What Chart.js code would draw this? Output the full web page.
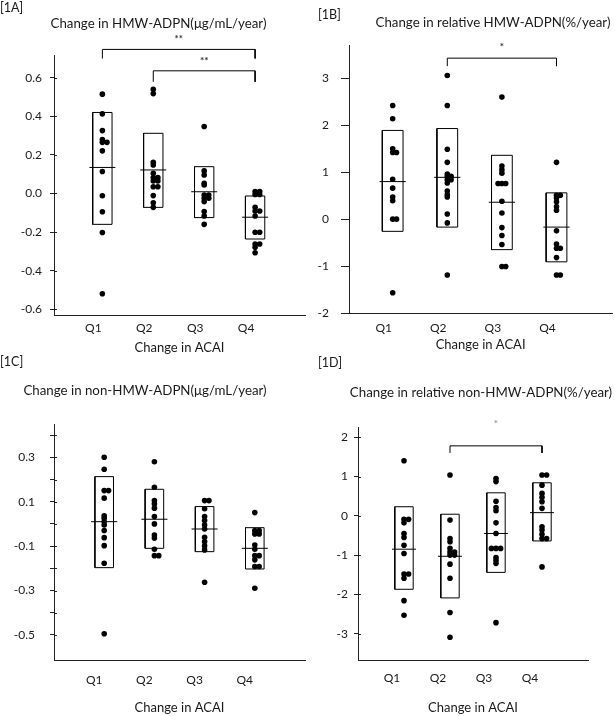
<!DOCTYPE html>
<html><head><meta charset="utf-8">
<script src="https://cdn.jsdelivr.net/npm/chart.js@4"></script>
<style>
html,body{margin:0;padding:0;background:#fff;}
#wrap{position:relative;width:615px;height:716px;overflow:hidden;font-family:Lato,"Open Sans",sans-serif;color:#1a1a1a;}
canvas{position:absolute;}
.t{position:absolute;white-space:nowrap;font-size:13.3px;line-height:18px;text-align:center;z-index:2;}
.p{position:absolute;white-space:nowrap;font-size:12.5px;line-height:16px;z-index:2;}
</style></head><body>
<div id="wrap">
  <canvas id="cA" width="310" height="360" style="left:0;top:0"></canvas>
  <canvas id="cB" width="310" height="360" style="left:305px;top:0"></canvas>
  <canvas id="cC" width="310" height="356" style="left:0;top:360px"></canvas>
  <canvas id="cD" width="310" height="356" style="left:305px;top:360px"></canvas>
  <div class="p" style="left:0;top:0">[1A]</div>
  <div class="t" style="left:0;width:317px;top:14px">Change in HMW-ADPN(μg/mL/year)</div>
  <div class="p" style="left:318px;top:7px">[1B]</div>
  <div class="t" style="left:343px;width:300px;top:13px">Change in relative HMW-ADPN(%/year)</div>
  <div class="p" style="left:0;top:354px">[1C]</div>
  <div class="t" style="left:0;width:290px;top:381px">Change in non-HMW-ADPN(μg/mL/year)</div>
  <div class="p" style="left:318px;top:355px">[1D]</div>
  <div class="t" style="left:331px;width:300px;top:383px">Change in relative non-HMW-ADPN(%/year)</div>
</div>
<script>
// ---------- shared ----------
const QUARTILES = ['Q1', 'Q2', 'Q3', 'Q4'];
const X_TITLE = 'Change in ACAI';

// ---------- [1A] Change in HMW-ADPN (μg/mL/year) ----------
const A_Q1 = [0.515, 0.413, 0.326, 0.28, 0.265, 0.265, 0.221, 0.114, -0.012, -0.095, -0.202, -0.52];
const A_Q2 = [0.54, 0.518, 0.162, 0.148, 0.105, 0.082, 0.082, 0.065, 0.065, 0.035, 0.035, -0.011, -0.048, -0.072];
const A_Q3 = [0.347, 0.117, 0.096, 0.053, 0.044, -0.008, -0.008, -0.025, -0.025, -0.042, -0.094, -0.117, -0.16];
const A_Q4 = [0.01, 0.01, -0.005, -0.005, -0.072, -0.091, -0.091, -0.117, -0.201, -0.201, -0.262, -0.262, -0.279, -0.307];
const A_MEAN = [0.135, 0.122, 0.009, -0.123];
const A_BOX_HI = [0.42, 0.312, 0.139, -0.013];
const A_BOX_LO = [-0.16, -0.072, -0.125, -0.236];
const A_TICKS = [0.6, 0.4, 0.2, 0, -0.2, -0.4, -0.6];
const A_TICK_LABELS = ['0.6', '0.4', '0.2', '0.0', '-0.2', '-0.4', '-0.6'];
const A_BRACKETS = [
  {from: 1, to: 4, top: 0.747, leg: 0.70, mark: '**', markY: 0.80},
  {from: 2, to: 4, top: 0.636, leg: 0.579, mark: '**', markY: 0.687}
];

// ---------- [1B] Change in relative HMW-ADPN (%/year) ----------
const B_Q1 = [2.42, 2.14, 1.5, 1.42, 1.42, 0.85, 0.66, 0.47, 0.39, 0.0, 0.0, -1.57];
const B_Q2 = [3.06, 2.42, 1.49, 1.21, 0.96, 0.91, 0.91, 0.84, 0.84, 0.77, 0.6, 0.52, 0.47, 0.11, -0.08, -1.19];
const B_Q3 = [2.6, 1.13, 1.05, 0.98, 0.76, 0.76, 0.76, 0.38, 0.13, -0.18, -0.35, -0.54, -1.01, -1.01];
const B_Q4 = [1.21, 0.51, 0.51, 0.45, 0.37, 0.27, 0.19, -0.25, -0.53, -0.62, -0.62, -0.82, -1.19, -1.19];
const B_MEAN = [0.8, 0.89, 0.36, -0.17];
const B_BOX_HI = [1.89, 1.93, 1.36, 0.56];
const B_BOX_LO = [-0.26, -0.17, -0.65, -0.91];
const B_TICKS = [3, 2, 1, 0, -1, -2];
const B_TICK_LABELS = ['3', '2', '1', '0', '-1', '-2'];
const B_BRACKETS = [
  {from: 2, to: 4, top: 3.43, leg: 3.26, mark: '*', markY: 3.67}
];

// ---------- [1C] Change in non-HMW-ADPN (μg/mL/year) ----------
const C_Q1 = [0.30, 0.246, 0.15, 0.15, 0.116, 0.036, 0.026, 0.01, -0.005, -0.03, -0.062, -0.098, -0.177, -0.495];
const C_Q2 = [0.28, 0.165, 0.105, 0.09, 0.071, 0.033, 0.0, -0.05, -0.064, -0.114, -0.143, -0.143];
const C_Q3 = [0.105, 0.105, 0.068, 0.033, 0.015, -0.005, -0.023, -0.06, -0.08, -0.099, -0.117, -0.263];
const C_Q4 = [0.051, -0.03, -0.03, -0.045, -0.045, -0.095, -0.114, -0.143, -0.143, -0.162, -0.192, -0.192, -0.29];
const C_MEAN = [0.01, 0.021, -0.023, -0.11];
const C_BOX_HI = [0.213, 0.156, 0.078, -0.017];
const C_BOX_LO = [-0.197, -0.11, -0.125, -0.203];
const C_TICKS = [0.4, 0.3, 0.2, 0.1, 0, -0.1, -0.2, -0.3, -0.4, -0.5];
const C_TICK_LABELS = ['', '0.3', '', '0.1', '', '-0.1', '', '-0.3', '', '-0.5'];
const C_BRACKETS = [];

// ---------- [1D] Change in relative non-HMW-ADPN (%/year) ----------
const D_Q1 = [1.4, -0.09, -0.09, -0.18, -0.45, -0.55, -0.75, -0.96, -1.48, -1.48, -1.59, -2.16, -2.53];
const D_Q2 = [1.04, -0.11, -0.58, -0.66, -0.83, -0.92, -0.92, -1.0, -1.0, -1.23, -1.59, -2.46, -3.09];
const D_Q3 = [0.95, 0.87, 0.37, 0.21, 0.13, -0.18, -0.45, -0.83, -0.83, -0.83, -1.06, -1.13, -1.21, -2.72];
const D_Q4 = [1.04, 1.04, 0.78, 0.57, 0.47, 0.36, 0.19, -0.28, -0.36, -0.47, -0.58, -0.58, -1.30];
const D_MEAN = [-0.85, -1.03, -0.45, 0.08];
const D_BOX_HI = [0.23, 0.04, 0.585, 0.84];
const D_BOX_LO = [-1.87, -2.09, -1.44, -0.64];
const D_TICKS = [2, 1, 0, -1, -2, -3];
const D_TICK_LABELS = ['2', '1', '0', '-1', '-2', '-3'];
const D_BRACKETS = [
  {from: 2, to: 4, top: 1.78, leg: 1.6, mark: '*', markY: 2.35}
];

// ---------- drawing ----------
const FONT = 'Lato, "Open Sans", sans-serif';
const INK = '#1a1a1a';

const deco = {
  id: 'deco',
  afterDraw(chart, args, opts) {
    const {ctx, chartArea, scales: {x, y}} = chart;
    ctx.save();
    ctx.strokeStyle = '#222';
    ctx.lineWidth = 1;
    if (opts.cross) {
      y.ticks.forEach(t => {
        const py = Math.round(y.getPixelForValue(t.value)) + 0.5;
        ctx.beginPath();
        ctx.moveTo(chartArea.left, py);
        ctx.lineTo(chartArea.left + opts.cross, py);
        ctx.stroke();
      });
    }
    ctx.fillStyle = opts.markColor;
    ctx.font = 'bold ' + opts.markSize + 'px ' + FONT;
    ctx.textAlign = 'center';
    ctx.textBaseline = 'middle';
    (opts.brackets || []).forEach(b => {
      ctx.fillText(b.mark, x.getPixelForValue((b.from + b.to) / 2), y.getPixelForValue(b.markY));
    });
    ctx.restore();
  }
};

function dotPoints(series, step) {
  const offs = [0, 1, -1, 2, -2];
  const pts = [];
  series.forEach((vals, qi) => {
    const seen = [];
    vals.forEach(v => {
      const n = seen.filter(s => Math.abs(s - v) < 1e-9).length;
      seen.push(v);
      pts.push({x: qi + 1 + offs[Math.min(n, 4)] * step, y: v});
    });
  });
  return pts;
}

const LINE = {type: 'scatter', showLine: true, borderColor: '#000', backgroundColor: 'transparent',
  borderWidth: 1, pointRadius: 0, pointHoverRadius: 0, fill: false, tension: 0};

function makePanel(id, d, s) {
  const datasets = [];
  d.mean.forEach((m, i) => {
    const q = i + 1, h = s.boxHalf, w = s.meanHalf;
    datasets.push(Object.assign({}, LINE, {data: [
      {x: q - h, y: d.lo[i]}, {x: q + h, y: d.lo[i]}, {x: q + h, y: d.hi[i]},
      {x: q - h, y: d.hi[i]}, {x: q - h, y: d.lo[i]}]}));
    datasets.push(Object.assign({}, LINE, {data: [{x: q - w, y: m}, {x: q + w, y: m}]}));
  });
  d.brackets.forEach(b => {
    datasets.push(Object.assign({}, LINE, {clip: false, data: [
      {x: b.from, y: b.leg}, {x: b.from, y: b.top}, {x: b.to, y: b.top}, {x: b.to, y: b.leg}]}));
  });
  datasets.push({type: 'scatter', data: dotPoints(d.series, s.jitter), pointRadius: 2.8,
    pointHoverRadius: 2.8, backgroundColor: '#000', borderWidth: 0, showLine: false});

  new Chart(document.getElementById(id), {
    type: 'scatter',
    data: {datasets},
    options: {
      responsive: false, animation: false, devicePixelRatio: 1,
      layout: {padding: s.padding},
      events: [],
      plugins: {
        legend: {display: false}, tooltip: {enabled: false},
        deco: {cross: s.cross, brackets: d.brackets, markSize: 10, markColor: s.markColor}
      },
      scales: {
        x: {
          type: 'linear', min: s.xMin, max: s.xMax,
          afterBuildTicks: sc => { sc.ticks = QUARTILES.map((_, i) => ({value: i + 1})); },
          afterFit: sc => { sc.height = s.xHeight; },
          grid: {display: false, drawTicks: false},
          border: {display: true, color: '#222', width: 1},
          ticks: {autoSkip: false, maxRotation: 0, minRotation: 0, padding: s.xLabelPad,
            labelOffset: s.labelOffset, color: INK, font: {family: FONT, size: 12},
            callback: (v, i) => QUARTILES[i]},
          title: {display: true, text: X_TITLE, color: INK, font: {family: FONT, size: 13},
            padding: {top: 0, bottom: s.titlePad}}
        },
        y: {
          type: 'linear', min: s.yMin, max: s.yMax,
          afterBuildTicks: sc => { sc.ticks = d.ticks.map(v => ({value: v})); },
          afterFit: sc => { sc.width = s.yWidth; },
          grid: {drawOnChartArea: false, drawTicks: true, tickLength: s.tickLen, color: '#222'},
          border: {display: true, color: '#222', width: 1},
          ticks: {autoSkip: false, padding: s.tickPad, color: INK, font: {family: FONT, size: 12},
            callback: (v, i) => d.tickLabels[i]}
        }
      }
    },
    plugins: [deco]
  });
}

makePanel('cA',
  {series: [A_Q1, A_Q2, A_Q3, A_Q4], mean: A_MEAN, hi: A_BOX_HI, lo: A_BOX_LO,
   ticks: A_TICKS, tickLabels: A_TICK_LABELS, brackets: A_BRACKETS},
  {padding: {left: 0, top: 55, right: 5, bottom: 0}, yWidth: 54, xHeight: 45,
   xMin: 0.05, xMax: 4.98, yMin: -0.63, yMax: 0.718, tickLen: 4, tickPad: 8, cross: 3,
   xLabelPad: 6, labelOffset: -9, titlePad: 4, boxHalf: 0.19, meanHalf: 0.255, jitter: 0.09,
   markColor: '#333'});

makePanel('cB',
  {series: [B_Q1, B_Q2, B_Q3, B_Q4], mean: B_MEAN, hi: B_BOX_HI, lo: B_BOX_LO,
   ticks: B_TICKS, tickLabels: B_TICK_LABELS, brackets: B_BRACKETS},
  {padding: {left: 0, top: 45, right: 0, bottom: 0}, yWidth: 44, xHeight: 47,
   xMin: 0.2, xMax: 5.02, yMin: -2, yMax: 3.71, tickLen: 8, tickPad: 12, cross: 0,
   xLabelPad: 8, labelOffset: -9, titlePad: 7, boxHalf: 0.19, meanHalf: 0.24, jitter: 0.07,
   markColor: '#333'});

makePanel('cC',
  {series: [C_Q1, C_Q2, C_Q3, C_Q4], mean: C_MEAN, hi: C_BOX_HI, lo: C_BOX_LO,
   ticks: C_TICKS, tickLabels: C_TICK_LABELS, brackets: C_BRACKETS},
  {padding: {left: 0, top: 64, right: 5, bottom: 0}, yWidth: 54, xHeight: 56,
   xMin: 0, xMax: 5, yMin: -0.613, yMax: 0.45, tickLen: 4, tickPad: 15, cross: 3,
   xLabelPad: 13, labelOffset: -10, titlePad: 0, boxHalf: 0.185, meanHalf: 0.26, jitter: 0.087,
   markColor: '#333'});

makePanel('cD',
  {series: [D_Q1, D_Q2, D_Q3, D_Q4], mean: D_MEAN, hi: D_BOX_HI, lo: D_BOX_LO,
   ticks: D_TICKS, tickLabels: D_TICK_LABELS, brackets: D_BRACKETS},
  {padding: {left: 0, top: 67, right: 27, bottom: 0}, yWidth: 53, xHeight: 56,
   xMin: 0, xMax: 5, yMin: -3.67, yMax: 2.26, tickLen: 4, tickPad: 6, cross: 3,
   xLabelPad: 11, labelOffset: -12, titlePad: 0, boxHalf: 0.2, meanHalf: 0.26, jitter: 0.1,
   markColor: '#999'});
</script>
</body></html>
